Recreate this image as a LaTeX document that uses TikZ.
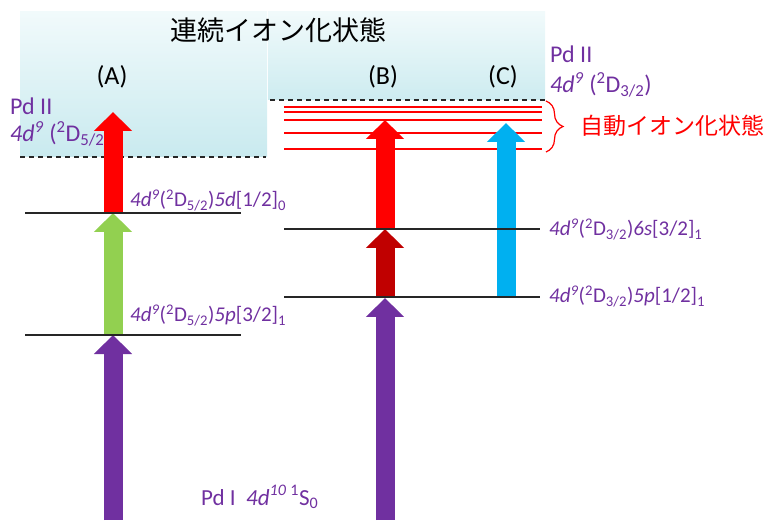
\documentclass[tikz,border=0pt]{standalone}
\usepackage{fontspec}
\setmainfont{Carlito}
\newfontfamily\jpfont{Noto Sans CJK JP}
\usetikzlibrary{arrows.meta,decorations.pathreplacing}
\definecolor{pdpurple}{HTML}{7030A0}
\definecolor{exgreen}{HTML}{92D050}
\definecolor{exred}{HTML}{FF0000}
\definecolor{exdarkred}{HTML}{C00000}
\definecolor{excyan}{HTML}{00B0F0}
\definecolor{conttop}{HTML}{F1FAFB}
\definecolor{contbot}{HTML}{C9EAEF}
\newcommand{\dnine}{\textit{4d}\textsuperscript{\textit{9}}}
\newcommand{\ioncore}[1]{(\textsuperscript{2}D\textsubscript{#1})}
\begin{document}
\begin{tikzpicture}[x=1pt,y=1pt,
  fat/.style={line width=19pt,-{Triangle[width=37pt,length=19pt]}},
  levelline/.style={line width=1.3pt,black!85},
  autoline/.style={line width=1.2pt,exred},
  limit/.style={line width=1.3pt,dash pattern=on 5pt off 4pt,black!85},
  lab/.style={anchor=base west,text=pdpurple,inner sep=0pt,font=\fontsize{21}{24}\selectfont},
  ionlab/.style={anchor=base west,text=pdpurple,inner sep=0pt,font=\fontsize{24}{27}\selectfont},
  col/.style={anchor=base,inner sep=0pt,font=\fontsize{26}{30}\selectfont}]
\useasboundingbox (0,0) rectangle (771,520);
% continuum
\shade[top color=conttop,bottom color=contbot] (20,363) rectangle (267,508);
\shade[top color=conttop,bottom color=contbot!90!conttop] (268,420) rectangle (545,508);
\node (cont) at (278,490) {\jpfont\fontsize{27}{30}\selectfont 連続イオン化状態};
\draw[limit] (20,363) -- (266,363);
\draw[limit] (270,420) -- (545,420);
% autoionizing levels
\foreach \y in {413,408,400,387,371}
  \draw[autoline] (284,\y) -- (542,\y);
\coordinate (brtop) at (546,419);
\coordinate (brbot) at (546,368);
\draw[exred,line width=1.2pt,decorate,decoration={brace,amplitude=17pt}] (brtop) -- (brbot);
\node[anchor=west,inner sep=0pt,text=exred] (auto) at (580,394) {\jpfont\fontsize{23}{26}\selectfont 自動イオン化状態};
% labels
\node[col] (labA) at (112,435) {(A)};
\node[col] (labB) at (383,435) {(B)};
\node[col] (labC) at (503,435) {(C)};
\node[ionlab] (ionA) at (10,405) {Pd II};
\node[ionlab] (coreA) at (10,378) {\dnine{} \ioncore{5/2})};
\node[ionlab] (ionB) at (550,457) {Pd II};
\node[ionlab] (coreB) at (550,427) {\dnine{} \ioncore{3/2}};
\node[lab] (lvA2) at (130,313) {\dnine\ioncore{5/2}\textit{5d}[1/2]\textsubscript{0}};
\node[lab] (lvA1) at (130,198) {\dnine\ioncore{5/2}\textit{5p}[3/2]\textsubscript{1}};
\node[lab] (lvB2) at (549,284) {\dnine\ioncore{3/2}\textit{6s}[3/2]\textsubscript{1}};
\node[lab] (lvB1) at (549,217) {\dnine\ioncore{3/2}\textit{5p}[1/2]\textsubscript{1}};
\node[lab,font=\fontsize{23}{26}\selectfont] (ground) at (201,15) {Pd I\ \ \textit{4d}\textsuperscript{\textit{10}}\,\textsuperscript{1}S\textsubscript{0}};
% arrows
\coordinate (A0) at (113,0);
\coordinate (A1) at (113,185);
\coordinate (A2) at (113,307);
\coordinate (A3) at (113,408);
\coordinate (B0) at (385,0);
\coordinate (B1) at (385,222);
\coordinate (B2) at (385,291);
\coordinate (B3) at (385,400);
\coordinate (C1) at (506,224);
\coordinate (C3) at (506,397);
\draw[fat,pdpurple] (A0) -- (A1);
\draw[fat,exgreen] (A1) -- (A2);
\draw[fat,exred] (A2) -- (A3);
\draw[fat,pdpurple] (B0) -- (B1);
\draw[fat,exdarkred] (B1) -- (B2);
\draw[fat,exred] (B2) -- (B3);
\draw[fat,excyan] (C1) -- (C3);
% bound levels
\draw[levelline] (25,307) -- (241,307);
\draw[levelline] (25,185) -- (241,185);
\draw[levelline] (284,291) -- (540,291);
\draw[levelline] (284,223) -- (540,223);
\end{tikzpicture}
\end{document}
